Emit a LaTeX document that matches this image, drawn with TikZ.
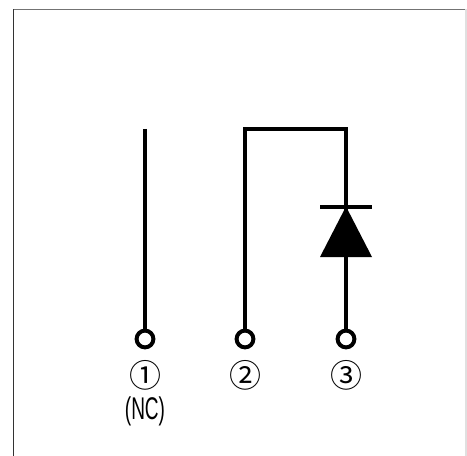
\documentclass[tikz,border=0pt]{standalone}
\usepackage{fontspec}
\usepackage{graphicx}
\newfontfamily\symfont{Noto Sans CJK JP}
\newfontfamily\labfont{Liberation Sans}
\usetikzlibrary{calc}
\tikzset{
  wire/.style={line width=3pt,black,line cap=butt},
  term/.style={circle,draw=black,line width=3pt,fill=white,minimum size=12.6pt,inner sep=0pt},
  num/.style={inner sep=0pt,text height=16pt,text depth=0pt,font=\symfont\fontsize{24pt}{24pt}\selectfont},
  nc/.style={inner sep=0pt,font=\labfont\fontsize{21pt}{21pt}\selectfont},
  frameline/.style={line width=0.9pt,#1}
}
\begin{document}
\begin{tikzpicture}[x=0.75pt,y=-0.75pt]
\useasboundingbox (0,0) rectangle (467,456);
\fill[white] (0,0) rectangle (467,456);
\coordinate (fa) at (13.5,456);
\coordinate (fb) at (13.5,9.5);
\coordinate (fc) at (466,9.5);
\coordinate (fd) at (466,456);
\draw[frameline=black!80] (fa) -- (fb);
\draw[frameline=black!55] (fb) -- (fc);
\draw[frameline=black!12] (fc) -- (fd);
\node[term] (t1) at (145,339) {};
\node[term] (t2) at (245,339) {};
\node[term] (t3) at (346,339) {};
\coordinate (top1) at (145,129);
\coordinate (top2) at (245,129);
\coordinate (top3) at (346,129);
\coordinate (barL) at (320,206.5);
\coordinate (barR) at (372,206.5);
\coordinate (triL) at (320,257);
\coordinate (triR) at (372,257);
\coordinate (apex) at (346,206.5);
\draw[wire] (top1) -- (t1);
\draw[wire,line join=miter] (t2) -- (top2) -- (top3) -- (t3);
\draw[wire] (barL) -- (barR);
\fill[black] (apex) -- (triL) -- (triR) -- cycle;
\node[num] (n1) at (145,377) {①};
\node[num] (n2) at (245,377) {②};
\node[num] (n3) at (346,377) {③};
\node[nc] (nc) at (145,411) {\scalebox{0.68}[1.12]{(NC)}};
\end{tikzpicture}
\end{document}
